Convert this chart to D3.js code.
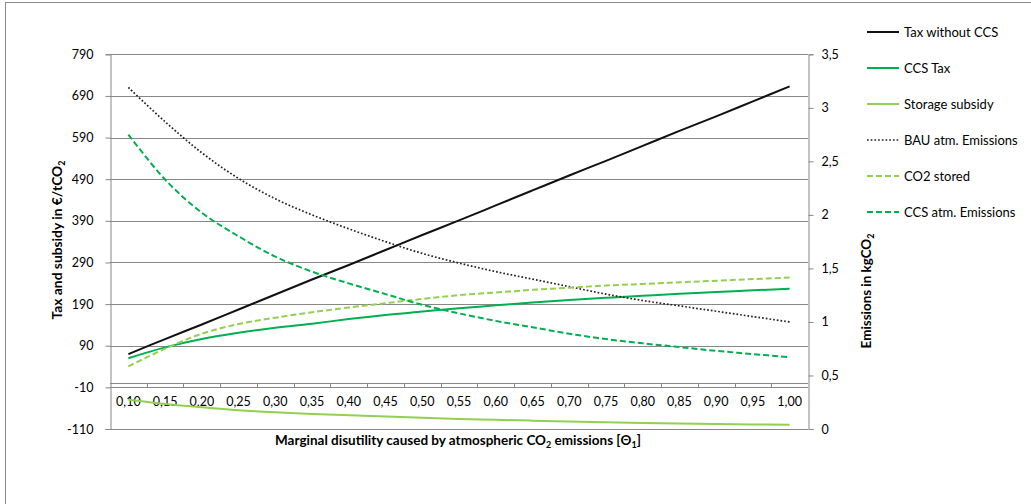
<!DOCTYPE html>
<html><head><meta charset="utf-8">
<script src="https://cdn.jsdelivr.net/npm/d3@7"></script>
<style>
body{margin:0;background:#fff}
svg{display:block}
text{font-family:Lato,'Open Sans',sans-serif;fill:#000}
</style>
</head><body>
<svg id="c" width="1031" height="504"></svg>
<script>
const categories = [0.10,0.15,0.20,0.25,0.30,0.35,0.40,0.45,0.50,0.55,0.60,0.65,0.70,0.75,0.80,0.85,0.90,0.95,1.00];
const xTickLabels = ["0,10","0,15","0,20","0,25","0,30","0,35","0,40","0,45","0,50","0,55","0,60","0,65","0,70","0,75","0,80","0,85","0,90","0,95","1,00"];
const leftTicks = [-110,-10,90,190,290,390,490,590,690,790];
const leftTickLabels = ["-110","-10","90","190","290","390","490","590","690","790"];
const rightTicks = [0,0.5,1,1.5,2,2.5,3,3.5];
const rightTickLabels = ["0","0,5","1","1,5","2","2,5","3","3,5"];

// left axis series (€/tCO2)
const taxWithoutCCS = [70,106,141,177,213,249,284,320,356,391,427,463,499,534,570,606,641,677,713];
const ccsTax = [60,86,106,121,133,143,154,164,172,180,187,194,200,205,210,215,219,223,227];
const storageSubsidy = [-40,-50,-58,-65,-70,-74,-77,-80,-83,-86,-88,-90,-92,-94,-95.5,-97,-98,-99,-100];
// right axis series (kgCO2)
const bauEmissions = [3.19,2.87,2.58,2.34,2.15,2.00,1.87,1.75,1.64,1.55,1.47,1.40,1.33,1.26,1.20,1.15,1.10,1.05,1.00];
const co2Stored = [0.585,0.75,0.89,0.98,1.04,1.09,1.135,1.175,1.215,1.25,1.275,1.30,1.32,1.34,1.355,1.37,1.385,1.40,1.415];
const ccsEmissions = [2.75,2.33,2.02,1.80,1.61,1.47,1.36,1.26,1.16,1.08,1.01,0.95,0.89,0.84,0.80,0.765,0.73,0.70,0.67];

const seriesNames = ["Tax without CCS","CCS Tax","Storage subsidy","BAU atm. Emissions","CO2 stored","CCS atm. Emissions"];

const svg = d3.select("#c");
const L = 110, R = 808, T = 54.3, B = 429;
const gridCol = "#878787";
const green = "#00b050", lightGreen = "#92d050";

// outer frame
svg.append("rect").attr("x",5.5).attr("y",2.5).attr("width",1100).attr("height",1100)
  .attr("fill","none").attr("stroke","#8c8c8c").attr("stroke-width",1);

const x = d3.scaleBand().domain(categories).range([L,R]);
const xc = d => x(d) + x.bandwidth()/2;
const yL = d3.scaleLinear().domain([-110,790]).range([B,T]);
const yR = d3.scaleLinear().domain([0,3.5]).range([B,T]);

// gridlines
svg.append("g").selectAll("line").data(leftTicks).join("line")
  .attr("x1",L).attr("x2",R)
  .attr("y1",d=>Math.round(yL(d))+0.5).attr("y2",d=>Math.round(yL(d))+0.5)
  .attr("stroke",gridCol).attr("stroke-width",1);

// left axis
const gl = svg.append("g").attr("transform",`translate(${L+0.5},0)`)
  .call(d3.axisLeft(yL).tickValues(leftTicks).tickFormat((d,i)=>leftTickLabels[i]).tickSize(5).tickPadding(12));
// right axis
const gr = svg.append("g").attr("transform",`translate(${R+0.5},0)`)
  .call(d3.axisRight(yR).tickValues(rightTicks).tickFormat((d,i)=>rightTickLabels[i]).tickSize(5).tickPadding(8));
[gl,gr].forEach(g=>{
  g.select(".domain").attr("stroke",gridCol);
  g.selectAll(".tick line").attr("stroke",gridCol);
  g.selectAll(".tick text").attr("font-size",12.5).attr("font-family","Lato,'Open Sans',sans-serif").attr("fill","#1a1a1a");
});

// x axis at 0
const y0 = Math.round(yL(0))+0.5;
const gx = svg.append("g").attr("transform",`translate(0,${y0})`)
  .call(d3.axisBottom(x).tickFormat((d,i)=>xTickLabels[i]).tickSize(0).tickPadding(14));
gx.select(".domain").remove();
gx.selectAll(".tick text").attr("font-size",12.5).attr("font-family","Lato,'Open Sans',sans-serif").attr("fill","#1a1a1a");
svg.append("line").attr("x1",L).attr("x2",R).attr("y1",y0).attr("y2",y0).attr("stroke",gridCol);
svg.append("g").selectAll("line").data(d3.range(1,categories.length)).join("line")
  .attr("x1",i=>Math.round(L+i*x.step())+0.5).attr("x2",i=>Math.round(L+i*x.step())+0.5)
  .attr("y1",y0).attr("y2",y0+4.5).attr("stroke",gridCol);

// series
const styles = [
  {data:taxWithoutCCS, y:yL, color:"#111", width:2, dash:null},
  {data:ccsTax, y:yL, color:green, width:2, dash:null},
  {data:storageSubsidy, y:yL, color:lightGreen, width:2, dash:null},
  {data:bauEmissions, y:yR, color:"#222", width:1.7, dash:"1.7,2"},
  {data:co2Stored, y:yR, color:lightGreen, width:2, dash:"6,3"},
  {data:ccsEmissions, y:yR, color:green, width:2, dash:"6,3"}
];
styles.forEach(s=>{
  const line = d3.line().x((d,i)=>xc(categories[i])).y(d=>s.y(d)).curve(d3.curveCatmullRom.alpha(0.5));
  svg.append("path").datum(s.data).attr("d",line).attr("fill","none")
    .attr("stroke",s.color).attr("stroke-width",s.width)
    .attr("stroke-dasharray",s.dash);
});

// axis titles
const lt = svg.append("text").attr("transform",`translate(62,240) rotate(-90)`)
  .attr("text-anchor","middle").attr("font-size",13.8).attr("font-weight","bold");
lt.append("tspan").text("Tax and subsidy in €/tCO");
lt.append("tspan").attr("font-size",9).attr("dy",3).text("2");

const rt = svg.append("text").attr("transform",`translate(871,291) rotate(-90)`)
  .attr("text-anchor","middle").attr("font-size",13.4).attr("font-weight","bold");
rt.append("tspan").text("Emissions in kgCO");
rt.append("tspan").attr("font-size",9).attr("dy",3).text("2");

const xt = svg.append("text").attr("x",458).attr("y",445)
  .attr("text-anchor","middle").attr("font-size",13.5).attr("font-weight","bold");
xt.append("tspan").text("Marginal disutility caused by atmospheric CO");
xt.append("tspan").attr("font-size",9).attr("dy",3).text("2");
xt.append("tspan").attr("dy",-3).text(" emissions [Θ");
xt.append("tspan").attr("font-size",9).attr("dy",3).text("1");
xt.append("tspan").attr("dy",-3).text("]");

// legend
const lg = svg.append("g");
const legendY = d3.scalePoint().domain(seriesNames).range([32,212]);
seriesNames.forEach((n,i)=>{
  const s = styles[i];
  const yy = legendY(n);
  lg.append("line").attr("x1",867).attr("x2",899).attr("y1",yy).attr("y2",yy)
    .attr("stroke",s.color).attr("stroke-width",s.width).attr("stroke-dasharray",s.dash);
  lg.append("text").attr("x",904).attr("y",yy).attr("dy","0.35em").attr("font-size",13).attr("fill","#1a1a1a").text(n);
});
</script>
</body></html>
